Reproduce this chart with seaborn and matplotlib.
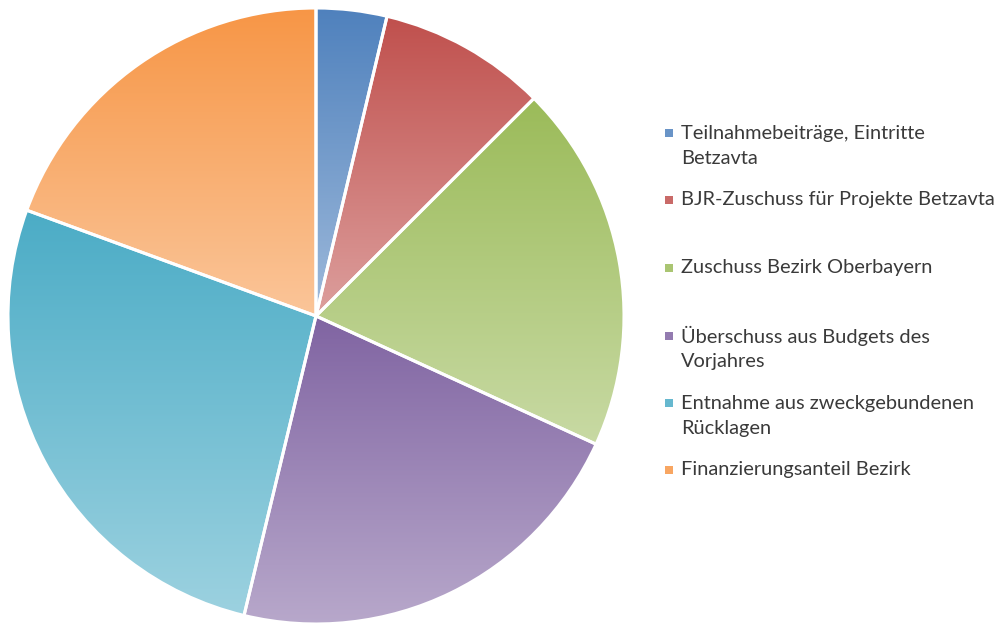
import numpy as np
import matplotlib
matplotlib.use("Agg")
import matplotlib.pyplot as plt
import seaborn as sns
from matplotlib.colors import to_rgb
from matplotlib.patches import Rectangle

categories = [
    "Teilnahmebeiträge, Eintritte\nBetzavta",
    "BJR-Zuschuss für Projekte Betzavta",
    "Zuschuss Bezirk Oberbayern",
    "Überschuss aus Budgets des\nVorjahres",
    "Entnahme aus zweckgebundenen\nRücklagen",
    "Finanzierungsanteil Bezirk",
]
values = [3.7, 8.8, 19.3, 21.9, 26.8, 19.4]
colors = ["#4F81BD", "#C0504D", "#9BBB59", "#8064A2", "#4BACC6", "#F79646"]

sns.set_style("white")
plt.rcParams["font.family"] = ["Lato", "DejaVu Sans"]
palette = sns.color_palette(colors)

fig = plt.figure(figsize=(10, 6.24), dpi=100)
ax = fig.add_axes([8 / 1000, 0.0, 616 / 1000, 616 / 624])
wedges, _ = ax.pie(values, colors=palette, startangle=90, counterclock=False,
                   wedgeprops=dict(edgecolor="white", linewidth=2.2))
ax.set_xlim(-1.0, 1.0)
ax.set_ylim(-1.0, 1.0)
ax.set_aspect("equal")
ax.axis("off")

# vertical gradient inside each wedge (dark at top, lighter at bottom)
for w, c in zip(wedges, palette):
    verts = w.get_path().vertices
    y0, y1 = verts[:, 1].min(), verts[:, 1].max()
    x0, x1 = verts[:, 0].min(), verts[:, 0].max()
    base = np.array(to_rgb(c))
    light = base + (1 - base) * 0.45
    t = np.linspace(0, 1, 256)[:, None]
    grad = (base[None, :] * (1 - t) + light[None, :] * t)[:, None, :]
    im = ax.imshow(grad, extent=(x0, x1, y0, y1), origin="upper",
                   aspect="auto", zorder=1, interpolation="bilinear")
    im.set_clip_path(w)
    w.set_facecolor("none")
    w.set_zorder(2)

# manual legend (Excel-like spacing)
W, H = 1000, 624
txt_color = "#3a3a3a"
legend_lines = [
    (0, ["Teilnahmebeiträge, Eintritte", "Betzavta"], 133),
    (1, ["BJR-Zuschuss für Projekte Betzavta"], 200),
    (2, ["Zuschuss Bezirk Oberbayern"], 268),
    (3, ["Überschuss aus Budgets des", "Vorjahres"], 336),
    (4, ["Entnahme aus zweckgebundenen", "Rücklagen"], 403),
    (5, ["Finanzierungsanteil Bezirk"], 470),
]
for idx, lines, ytop in legend_lines:
    base = np.array(to_rgb(palette[idx]))
    fig.patches.append(Rectangle((665 / W, 1 - (ytop + 4) / H), 8 / W, 8 / H,
                                 transform=fig.transFigure, facecolor=base * 0.85 + 0.15,
                                 edgecolor="none"))
    for k, line in enumerate(lines):
        fig.text(681 / W, 1 - (ytop + k * 25.5) / H, line, fontsize=14.4,
                 color=txt_color, va="center", ha="left")

fig.savefig("out.png", dpi=100, facecolor="white")
